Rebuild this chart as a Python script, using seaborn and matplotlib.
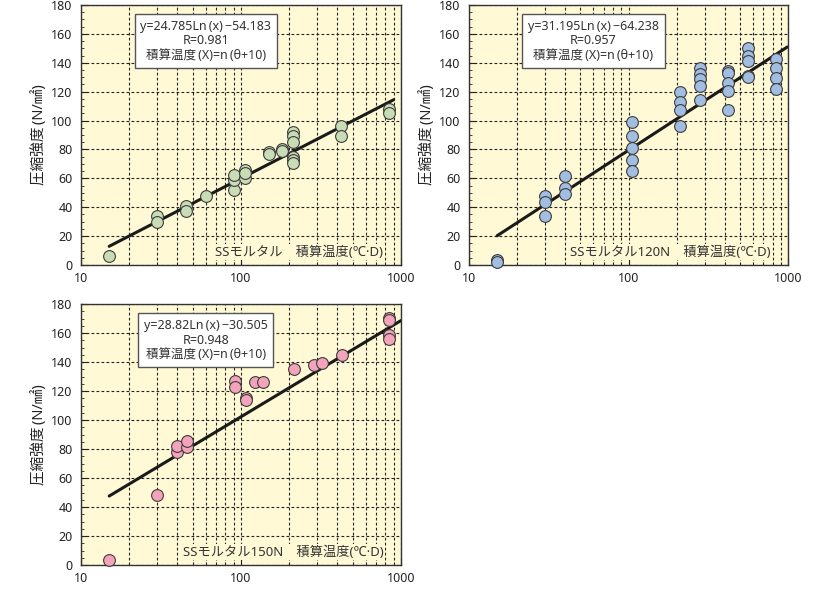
import numpy as np
import pandas as pd
import seaborn as sns
import matplotlib.pyplot as plt
from matplotlib.ticker import LogLocator, MultipleLocator, FixedLocator, NullFormatter

# --- data ---
# SSモルタル
ss_x = [15, 30, 30, 45, 45, 60, 90, 90, 90, 106, 106, 106, 150, 150, 180, 180,
        210, 210, 210, 210, 210, 210, 420, 420, 840, 840]
ss_y = [6, 34, 30, 41, 37.5, 48, 52, 59, 62.5, 66, 60, 64, 78, 77, 80, 79,
        92, 89, 85.5, 75, 72.5, 70.5, 96, 89, 108, 105.5]

# SSモルタル120N
n120_x = [15, 15, 30, 30, 30, 40, 40, 40, 105, 105, 105, 105, 105,
          210, 210, 210, 210, 280, 280, 280, 280, 280,
          420, 420, 420, 420, 420, 560, 560, 560, 560, 560, 840, 840, 840, 840]
n120_y = [3.5, 2, 47.5, 43.5, 34, 61.5, 53, 49.5, 99, 89.5, 81, 73, 65,
          120, 113, 107, 96.5, 136.5, 132, 128.5, 124, 114,
          134, 133, 126, 120.5, 107, 150, 145, 141, 131, 130, 142.5, 136.5, 129.5, 122]

# SSモルタル150N
n150_x = [15, 30, 40, 40, 46, 46, 92, 92, 108, 108, 122, 138, 214, 284, 320, 425,
          845, 845, 845, 845]
n150_y = [3.5, 48.5, 78, 82, 81.5, 85.5, 127, 123, 115.5, 113.5, 126, 126, 135, 138,
          139.5, 145, 170.5, 169, 158.5, 156]

ts = "\u2009"  # thin space, the original sets the brackets loosely
panels = [
    dict(x=ss_x, y=ss_y, a=24.785, b=-54.183, r="0.981", line=(15, 900),
         color="#c8dcb6", label="SSモルタル　積算温度(℃·D)",
         eq=f"y=24.785Ln{ts}(x){ts}\u221254.183"),
    dict(x=n120_x, y=n120_y, a=31.195, b=-64.238, r="0.957", line=(15, 990),
         color="#a1bde2", label="SSモルタル120N　積算温度(℃·D)",
         eq=f"y=31.195Ln{ts}(x){ts}\u221264.238"),
    dict(x=n150_x, y=n150_y, a=28.82, b=-30.505, r="0.948", line=(15, 1000),
         color="#f4a4ba", label="SSモルタル150N　積算温度(℃·D)",
         eq=f"y=28.82Ln{ts}(x){ts}\u221230.505"),
]
note = f"積算温度{ts}(X)=n{ts}(θ+10)"

sns.set_style("ticks")
plt.rcParams['font.family'] = ['Noto Sans', 'Noto Sans CJK JP', 'DejaVu Sans']
plt.rcParams['axes.unicode_minus'] = False

fig = plt.figure(figsize=(8.33, 5.9), dpi=100)
rects = [
    [81 / 833, 325 / 590, 320 / 833, 260 / 590],
    [469 / 833, 325 / 590, 319 / 833, 260 / 590],
    [81 / 833, 25 / 590, 320 / 833, 261 / 590],
]
bg = "#fff9d6"

for p, rect in zip(panels, rects):
    ax = fig.add_axes(rect)
    ax.set_facecolor(bg)
    df = pd.DataFrame({"x": p["x"], "y": p["y"]})

    # fit line from the stated regression
    lx = np.array(p["line"], dtype=float)
    ly = p["a"] * np.log(lx) + p["b"]
    sns.lineplot(x=lx, y=ly, ax=ax, color="#1a1a1a", lw=2.2, zorder=3)

    sns.scatterplot(data=df, x="x", y="y", ax=ax, s=72, color=p["color"],
                    edgecolor="#3c3c3c", linewidth=0.8, zorder=4, clip_on=False)

    ax.set_xscale("log")
    ax.set_xlim(10, 1000)
    ax.set_ylim(0, 180)
    ax.xaxis.set_major_locator(FixedLocator([10, 100, 1000]))
    ax.xaxis.set_major_formatter(plt.FuncFormatter(lambda v, _: f"{v:.0f}"))
    ax.xaxis.set_minor_locator(LogLocator(base=10, subs=np.arange(2, 10)))
    ax.xaxis.set_minor_formatter(NullFormatter())
    ax.yaxis.set_major_locator(MultipleLocator(20))
    ax.yaxis.set_minor_locator(MultipleLocator(5))

    ax.grid(which="major", axis="both", color="#222222", ls=(0, (2.5, 2)), lw=0.8)
    ax.grid(which="minor", axis="x", color="#222222", ls=(0, (2.5, 2)), lw=0.8)
    ax.set_axisbelow(True)

    ax.tick_params(which="major", direction="in", length=4, width=0.8,
                   labelsize=9, colors="#222222")
    ax.tick_params(which="minor", direction="in", length=2, width=0.6)
    ax.tick_params(axis="y", pad=6)
    ax.tick_params(axis="x", pad=5)
    for sp in ax.spines.values():
        sp.set_color("#333333")
        sp.set_linewidth(1.0)

    ax.set_xlabel("")
    ax.set_ylabel(f"圧縮強度{ts}(N/㎟)", fontsize=10.5, color="#222222", labelpad=3)

    ax.text(0.39, 0.862, f"{p['eq']}\nR={p['r']}\n{note}",
            transform=ax.transAxes, ha="center", va="center", fontsize=9,
            color="#333333", linespacing=1.15, zorder=6,
            bbox=dict(boxstyle="square,pad=0.45", fc="white", ec="#555555", lw=1.0))
    ax.text(0.945, 0.05, p["label"], transform=ax.transAxes, ha="right",
            va="center", fontsize=9.5, color="#333333", zorder=5,
            bbox=dict(boxstyle="square,pad=0.1", fc=bg, ec="none"))

fig.savefig("out.png", dpi=100)
